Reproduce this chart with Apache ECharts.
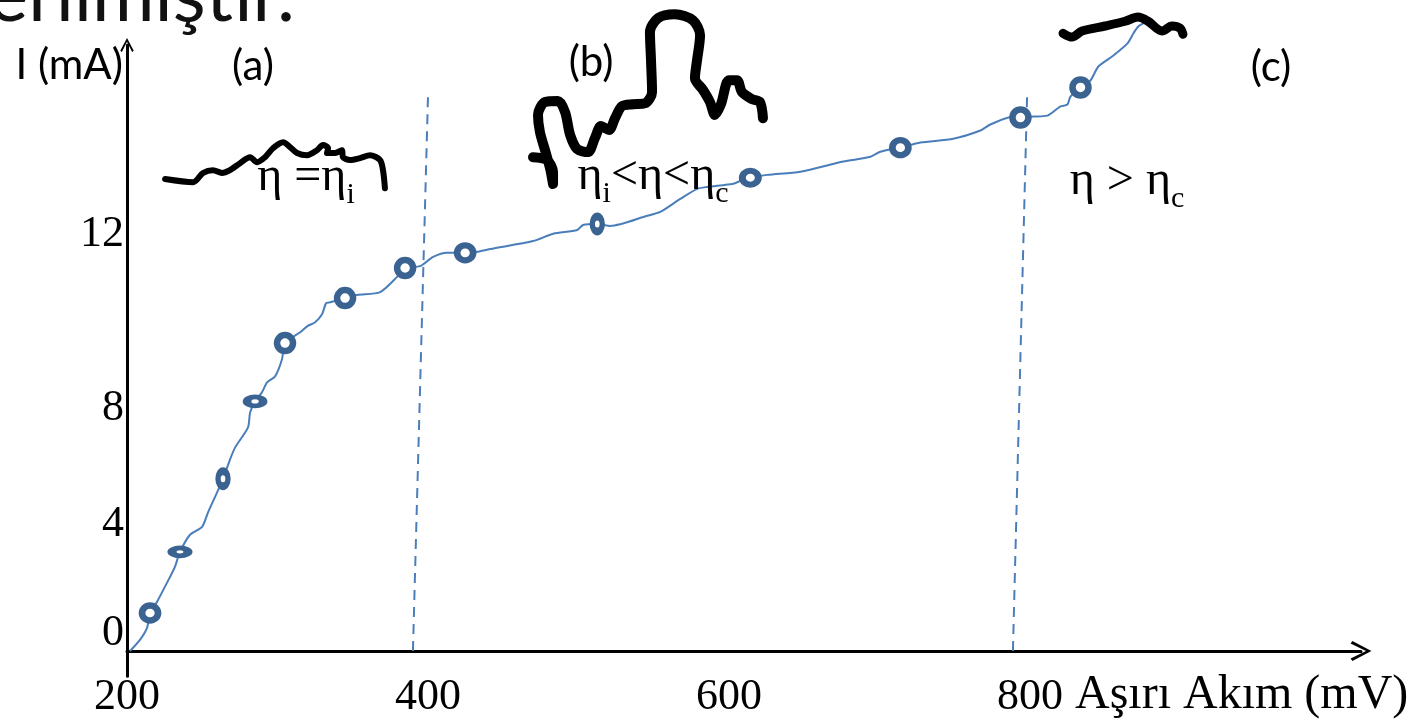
<!DOCTYPE html>
<html><head><meta charset="utf-8">
<script src="https://cdn.jsdelivr.net/npm/echarts@6/dist/echarts.min.js"></script>
<style>html,body{margin:0;padding:0;background:#fff}#c{width:1410px;height:721px}</style>
</head><body><div id="c"></div>
<script>
// ---- data (x: Aşırı Akım mV, y: I mA) ----
const xTicks = [200, 400, 600, 800];
const yTicks = [0, 4, 8, 12];
const regionLabels = ['(a)', '(b)', '(c)'];

const curveMV = [202.0,208.6,213.3,215.3,219.9,228.6,231.9,235.2,241.9,249.9,253.8,259.8,263.8,268.5,271.8,280.4,281.8,285.1,289.7,293.1,298.4,303.0,305.0,315.0,319.7,325.0,329.6,332.3,335.0,344.9,352.9,368.2,379.5,384.8,394.8,403.4,412.7,424.7,432.7,441.3,469.9,483.2,499.2,503.1,512.5,521.1,545.7,554.3,567.6,578.9,585.6,602.9,607.5,614.2,625.5,647.4,676.0,694.0,700.6,713.9,727.2,749.1,767.1,773.7,789.0,793.7,802.3,811.6,820.3,824.9,826.9,833.6,840.2,845.5,855.5,864.8,868.8,872.1,875.4];
const curveMA = [0,0.35,0.73,1.20,1.55,2.34,2.66,3.13,3.67,3.92,4.37,5.00,5.44,6.05,6.42,7.06,7.53,7.88,8.17,8.48,8.67,9.21,9.72,10.06,10.25,10.38,10.63,10.98,11.01,11.14,11.24,11.33,11.81,12.09,12.15,12.44,12.57,12.57,12.60,12.69,12.94,13.17,13.29,13.45,13.48,13.42,13.74,13.86,14.27,14.59,14.65,14.75,14.84,14.94,15.03,15.13,15.45,15.60,15.76,15.89,16.05,16.17,16.43,16.62,16.87,16.84,16.87,16.90,17.19,17.25,17.50,17.79,18.01,18.45,18.80,19.18,19.50,19.72,19.81];

const pointMV = [215.3,235.2,263.8,285.1,305.0,344.9,384.8,424.7,512.5,614.2,713.9,793.7,833.6];
const pointMA = [1.20,3.13,5.44,7.88,9.72,11.14,12.09,12.57,13.48,14.94,15.89,16.84,17.79];

// region boundaries (dashed, slightly slanted as drawn)
const boundary1MV = [390.0, 400.0];
const boundary2MV = [788.7, 798.1];
const boundaryMA = [0, 17.48];

// hand-drawn chain sketches, in chart units
const chainA_MV = [225.3,243.9,250.5,257.1,263.1,268.4,275.1,281.7,286.4,291.7,297.0,303.7,308.3,313.0,319.6,326.3,330.2,333.6,332.9,338.2,342.9,343.5,348.2,354.8,361.5,368.1,370.1,371.4];
const chainA_MA = [14.90,14.80,15.09,15.18,15.09,15.18,15.40,15.59,15.43,15.59,15.87,16.06,15.91,15.72,15.65,15.81,15.97,15.87,15.72,15.72,15.81,15.59,15.50,15.56,15.65,15.50,15.18,14.61];
const chainB_MV = [469.8,479.1,483.1,483.1,481.1,477.8,474.4,473.1,477.8,486.4,491.1,494.4,499.0,506.3,511.0,515.0,520.3,524.3,528.9,536.2,544.2,548.9,548.2,547.5,552.9,564.1,576.1,580.8,578.8,577.4,582.8,587.4,590.7,594.7,600.0,605.3,608.7,615.3,620.6,622.6];
const chainB_MA = [15.59,15.50,15.12,14.74,15.24,15.81,16.38,16.92,17.33,17.36,17.01,16.30,15.85,15.75,16.20,16.57,16.45,16.82,17.20,17.26,17.29,17.64,18.65,19.54,19.98,20.10,19.91,19.44,18.65,18.08,17.71,17.33,16.92,17.26,18.02,18.02,17.64,17.42,17.33,16.82];
const chainC_MV = [822.0,828.0,834.6,849.9,863.2,871.8,878.5,887.8,894.4,899.7,901.7];
const chainC_MA = [19.50,19.38,19.57,19.73,19.88,20.01,19.88,19.57,19.73,19.66,19.47];

// marker outline shapes (drawn ellipses), style only
const markerShape = [[16,15],[16,8],[10,15],[16,9],[16,16],[16,16],[16,16],[16,15],[10,15],[16,14],[16,15],[16,16],[16,16]];
// vertical nudges of the hand-placed y tick labels (style only)
const yLabelRich = {
  t0: {padding: [0, 0, 36, 0]}, t4: {padding: [0, 0, 0, 0]},
  t8: {padding: [22, 0, 0, 0]}, t12: {padding: [0, 0, 72, 0]}
};

const zip = (a, b) => a.map((v, i) => [v, b[i]]);

const SERIF = '"Liberation Serif", "Times New Roman", serif';
const SANS = 'Lato, "Open Sans", sans-serif';
const chevron = 'path://M10,0 L20,19 L17.6,20.8 L10,5.4 L2.4,20.8 L0,19 Z';

const chart = echarts.init(document.getElementById('c'), null, {renderer: 'canvas'});

const chainStyle = (w) => ({type: 'line', showSymbol: false, smooth: 0.3, clip: false, silent: true, z: 5,
  lineStyle: {color: '#000', width: w, cap: 'round', join: 'round'}});

Object.keys(yLabelRich).forEach(k => Object.assign(yLabelRich[k], {fontFamily: SERIF, fontSize: 44, color: '#000'}));

const option = {
  animation: false,
  backgroundColor: '#fff',
  grid: {left: 127, right: 49, top: 45, bottom: 44.65, containLabel: false, outerBoundsMode: 'none'},
  xAxis: {
    type: 'value', min: 200, max: 1020,
    splitLine: {show: false}, axisTick: {show: false},
    axisLine: {onZero: true, lineStyle: {color: '#000', width: 3}, symbol: ['none', chevron], symbolSize: [20, 22]},
    axisLabel: {customValues: xTicks, formatter: v => String(v), margin: -1, color: '#000', fontFamily: SERIF, fontSize: 44}
  },
  yAxis: {
    type: 'value', min: -0.8, max: 19.13,
    splitLine: {show: false}, axisTick: {show: false},
    axisLine: {lineStyle: {color: '#000', width: 3}, symbol: ['none', chevron], symbolSize: [18, 14]},
    axisLabel: {customValues: yTicks, formatter: v => '{t' + v + '|' + v + '}', rich: yLabelRich,
      margin: 3, color: '#000', fontFamily: SERIF, fontSize: 44}
  },
  series: [
    {type: 'line', data: zip(curveMV, curveMA), showSymbol: false, smooth: 0.25, clip: false, z: 2,
      lineStyle: {color: '#4a7ebb', width: 2}},
    {type: 'scatter', data: pointMV.map((v, i) => ({value: [v, pointMA[i]], symbolSize: markerShape[i]})),
      symbol: 'circle', z: 4,
      itemStyle: {color: '#fff', borderColor: '#3a6392', borderWidth: 6.5, opacity: 1}},
    {type: 'line', data: zip(boundary1MV, boundaryMA), showSymbol: false, z: 1,
      lineStyle: {color: '#4a7ebb', width: 2, type: [10, 7]}},
    {type: 'line', data: zip(boundary2MV, boundaryMA), showSymbol: false, z: 1,
      lineStyle: {color: '#4a7ebb', width: 2, type: [10, 7]}},
    Object.assign(chainStyle(6), {data: zip(chainA_MV, chainA_MA)}),
    Object.assign(chainStyle(10), {data: zip(chainB_MV, chainB_MA)}),
    Object.assign(chainStyle(9), {data: zip(chainC_MV, chainC_MA)})
  ],
  graphic: [
    {type: 'text', left: -12, top: -42, z: 10, style: {text: 'erilmiştir.', fontFamily: SANS, fontSize: 76, fill: '#111'}},
    {type: 'text', x: 123, y: 65, z: 10, style: {text: 'I (mA)', fontFamily: SANS, fontSize: 42, fill: '#000', align: 'right', verticalAlign: 'middle'}},
    {type: 'text', x: 253, y: 66, z: 10, style: {text: regionLabels[0], fontFamily: SANS, fontSize: 42, fill: '#000', align: 'center', verticalAlign: 'middle'}},
    {type: 'text', x: 591, y: 62, z: 10, style: {text: regionLabels[1], fontFamily: SANS, fontSize: 42, fill: '#000', align: 'center', verticalAlign: 'middle'}},
    {type: 'text', x: 1271, y: 67, z: 10, style: {text: regionLabels[2], fontFamily: SANS, fontSize: 42, fill: '#000', align: 'center', verticalAlign: 'middle'}},
    {type: 'text', x: 306, y: 177, z: 10, style: {text: '{m|η =η}{s|i}', align: 'center', verticalAlign: 'middle',
      rich: {m: {fontFamily: SERIF, fontSize: 48, fill: '#000'}, s: {fontFamily: SERIF, fontSize: 30, fill: '#000', padding: [36, 0, 0, 0]}}}},
    {type: 'text', x: 653, y: 176, z: 10, style: {text: '{m|η}{s|i}{m|<η<η}{s|c}', align: 'center', verticalAlign: 'middle',
      rich: {m: {fontFamily: SERIF, fontSize: 48, fill: '#000'}, s: {fontFamily: SERIF, fontSize: 30, fill: '#000', padding: [36, 0, 0, 0]}}}},
    {type: 'text', x: 1127, y: 181, z: 10, style: {text: '{m|η > η}{s|c}', align: 'center', verticalAlign: 'middle',
      rich: {m: {fontFamily: SERIF, fontSize: 48, fill: '#000'}, s: {fontFamily: SERIF, fontSize: 30, fill: '#000', padding: [36, 0, 0, 0]}}}},
    {type: 'text', x: 1075, y: 695, z: 10, style: {text: 'Aşırı Akım (mV)', fontFamily: SERIF, fontSize: 48, fill: '#000', align: 'left', verticalAlign: 'middle'}}
  ]
};
chart.setOption(option);
</script>
</body></html>
